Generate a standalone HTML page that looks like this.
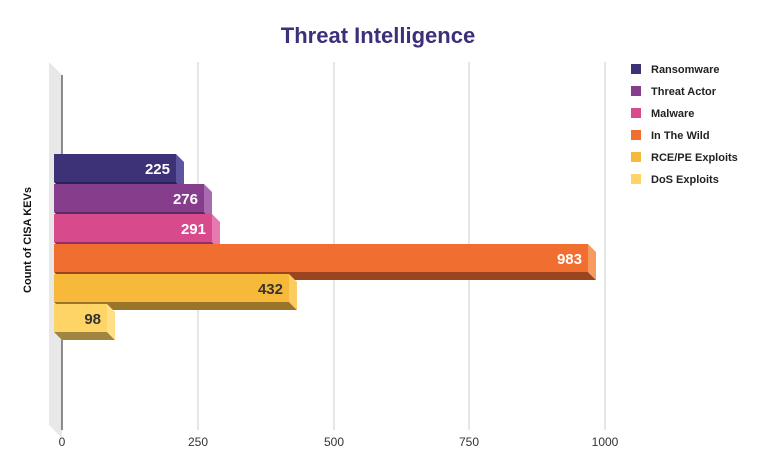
<!DOCTYPE html>
<html><head><style>body{margin:0;background:#fff}svg{display:block;font-family:"Liberation Sans",sans-serif}</style></head><body>
<svg width="757" height="471" xmlns="http://www.w3.org/2000/svg">
<text x="378" y="43" text-anchor="middle" font-size="22" font-weight="bold" fill="#3e2f7a">Threat Intelligence</text>
<polygon points="49,62 62,75 62,438 49,425" fill="#e8e8e8"/>
<line x1="62" y1="75" x2="62" y2="430" stroke="#222" stroke-width="1"/>
<g stroke="#ccc" stroke-width="1">
<line x1="198" y1="62" x2="198" y2="430"/><line x1="334" y1="62" x2="334" y2="430"/><line x1="469" y1="62" x2="469" y2="430"/><line x1="605" y1="62" x2="605" y2="430"/></g>
<g font-size="12" fill="#333" text-anchor="middle"><text x="62" y="446">0</text><text x="198" y="446">250</text><text x="334" y="446">500</text><text x="469" y="446">750</text><text x="605" y="446">1000</text></g>
<text transform="translate(31,240) rotate(-90)" text-anchor="middle" font-size="11" font-weight="bold" fill="#111">Count of CISA KEVs</text>
<g font-weight="bold" font-size="15">
<!-- bar: t, x1 -->
<polygon points="54,182 176,182 184,190 62,190" fill="#2a2255"/><polygon points="176,154 184,162 184,190 176,182" fill="#5d55a0"/><rect x="54" y="154" width="122" height="28" fill="#3d3277"/><text x="170" y="174" text-anchor="end" fill="#fff">225</text>
<polygon points="54,212 204,212 212,220 62,220" fill="#5c2a60"/><polygon points="204,184 212,192 212,220 204,212" fill="#a86bb0"/><rect x="54" y="184" width="150" height="28" fill="#863e8c"/><text x="198" y="204" text-anchor="end" fill="#fff">276</text>
<polygon points="54,242 212,242 220,250 62,250" fill="#8f3060"/><polygon points="212,214 220,222 220,250 212,242" fill="#e67aae"/><rect x="54" y="214" width="158" height="28" fill="#d74a8c"/><text x="206" y="234" text-anchor="end" fill="#fff">291</text>
<polygon points="54,272 588,272 596,280 62,280" fill="#9a4420"/><polygon points="588,244 596,252 596,280 588,272" fill="#f79a5e"/><rect x="54" y="244" width="534" height="28" fill="#f06f30"/><text x="582" y="264" text-anchor="end" fill="#fff">983</text>
<polygon points="54,302 289,302 297,310 62,310" fill="#9a7428"/><polygon points="289,274 297,282 297,310 289,302" fill="#fbcc60"/><rect x="54" y="274" width="235" height="28" fill="#f7b93a"/><text x="283" y="294" text-anchor="end" fill="#333">432</text>
<polygon points="54,332 107,332 115,340 62,340" fill="#a08440"/><polygon points="107,304 115,312 115,340 107,332" fill="#ffe086"/><rect x="54" y="304" width="53" height="28" fill="#fed466"/><text x="101" y="324" text-anchor="end" fill="#333">98</text>
</g>
<g font-size="11" font-weight="bold" fill="#222">
<rect x="631" y="64" width="10" height="10" fill="#3d3277"/><text x="651" y="73">Ransomware</text>
<rect x="631" y="86" width="10" height="10" fill="#863e8c"/><text x="651" y="95">Threat Actor</text>
<rect x="631" y="108" width="10" height="10" fill="#d74a8c"/><text x="651" y="117">Malware</text>
<rect x="631" y="130" width="10" height="10" fill="#f06f30"/><text x="651" y="139">In The Wild</text>
<rect x="631" y="152" width="10" height="10" fill="#f7b93a"/><text x="651" y="161">RCE/PE Exploits</text>
<rect x="631" y="174" width="10" height="10" fill="#fed466"/><text x="651" y="183">DoS Exploits</text>
</g>
</svg>
</body></html>
